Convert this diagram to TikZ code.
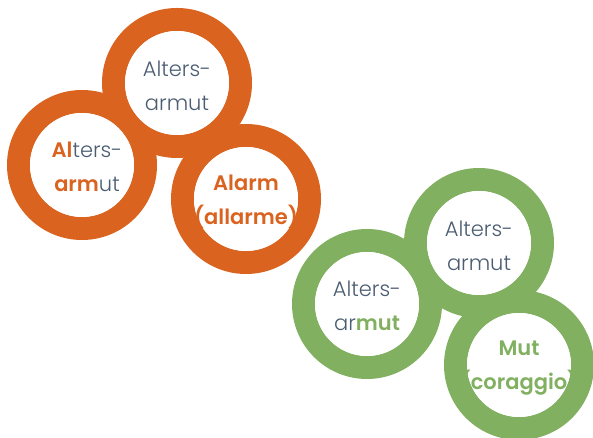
\documentclass[tikz,border=0pt]{standalone}
\usepackage{fontspec}
\setmainfont{Poppins Light}[BoldFont={Poppins SemiBold}]
\usepackage{tikz}
\usepackage{xcolor}
\definecolor{rust}{HTML}{DA6320}
\definecolor{leaf}{HTML}{82B061}
\definecolor{slate}{HTML}{4B5D72}

\begin{document}
\begin{tikzpicture}[x=1pt,y=1pt,
  ringshape/.style={circle,draw=#1,line width=23pt,minimum size=127pt,inner sep=0pt},
  hole/.style={circle,fill=white,minimum size=104pt,inner sep=0pt},
  word/.style={align=center,text=slate,font=\fontsize{21}{34}\selectfont}]
\useasboundingbox (0,0) rectangle (593,438);

%draw the rings, then the white insides
\foreach \n/\x/\y/\c in {otop/177/355/rust,oleft/82/273/rust,oright/246/239/rust,
  gtop/479/195/leaf,gleft/367/134/leaf,gright/519/73/leaf}
  \node[ringshape=\c] (\n) at (\x,\y) {};
\foreach \n in {otop,oleft,oright,gtop,gleft,gright}
  \node[hole] (\n-in) at (\n.center) {};

%orange words
\node[word] (totop) at ([yshift=-3pt]otop.center) {Alters-\\armut};
\node[word] (toleft) at ([xshift=5pt,yshift=-2pt]oleft.center)
  {\textcolor{rust}{\textbf{Al}}ters-\\\textcolor{rust}{\textbf{arm}}ut};
\node[word,text=rust] (toright) at ([yshift=-3pt]oright.center)
  {\textbf{Alarm}\\\textbf{(allarme)}};

%green words
\node[word] (tgtop) at ([yshift=-3pt]gtop.center) {Alters-\\armut};
\node[word] (tgleft) at ([yshift=-2pt]gleft.center)
  {Alters-\\ar\textcolor{leaf}{\textbf{mut}}};
\node[word,text=leaf] (tgright) at ([yshift=-3pt]gright.center)
  {\textbf{Mut}\\\textbf{(coraggio)}};
\end{tikzpicture}
\end{document}
